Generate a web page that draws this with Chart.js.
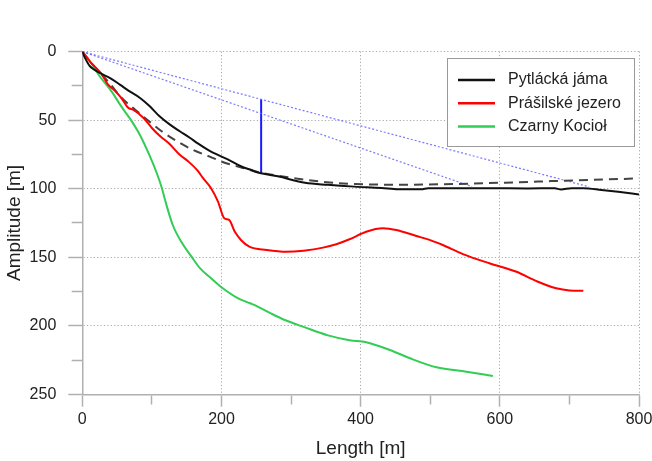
<!DOCTYPE html>
<html>
<head>
<meta charset="utf-8">
<title>Amplitude profiles</title>
<script src="https://cdn.jsdelivr.net/npm/chart.js@4.4.1/dist/chart.umd.min.js"></script>
<style>
    html, body { margin: 0; padding: 0; background: #fff; }
    .chart-wrap { position: relative; width: 652px; height: 461px; }
</style>
</head>
<body>
<div class="chart-wrap"><canvas id="profileChart"></canvas></div>
<script>
// Profile data (length [m] / amplitude [m])
const lengthTicks = [0, 200, 400, 600, 800];
const amplitudeTicks = [0, 50, 100, 150, 200, 250];

const pytlackaLength = [0, 3, 8, 11, 16, 25, 40, 54, 68, 83, 97, 111, 126, 140, 155, 166, 185, 209, 233, 243, 248, 257, 281, 320, 353, 391, 430, 454, 487, 497, 540, 583, 640, 679, 688, 703, 720, 746, 770, 800];
const pytlackaDepth = [0, 3.7, 8.5, 10.7, 12.8, 15.6, 19.3, 24.1, 29, 33.8, 39.9, 47.2, 53.3, 58.1, 63, 67, 73, 78.6, 84.7, 86.4, 87.5, 88.8, 91, 95.7, 97.2, 98.5, 99.5, 100.5, 100.5, 99.7, 99.7, 99.7, 99.8, 99.7, 100.6, 99.6, 99.6, 100.9, 102.3, 104.2];

const prasilskeLength = [0, 6, 13, 27, 37, 45, 56, 66, 73, 88, 100, 112, 124, 140, 152, 166, 173, 185, 195, 204, 211, 219, 228, 240, 265, 293, 318, 346, 365, 384, 408, 432, 451, 480, 500, 518, 547, 585, 624, 652, 681, 700, 720];
const prasilskeDepth = [0, 4, 8.5, 15.8, 24.1, 27.7, 33.8, 41, 42.4, 48.4, 55.7, 61.8, 66.7, 75.2, 80, 87, 92, 99.7, 109.4, 121.6, 122.8, 131.3, 137.4, 142.3, 144.7, 146, 145.2, 143, 140.5, 136.9, 131.4, 128.9, 130.1, 134.5, 137.5, 141.1, 147.7, 154.4, 160.6, 167.3, 172.7, 174.2, 174.4];

const czarnyLength = [0, 13, 25, 42, 56, 70, 83, 96, 108, 114, 121, 130, 142, 157, 169, 185, 199, 224, 241, 252, 271, 291, 319, 353, 384, 408, 442, 475, 509, 552, 590];
const czarnyDepth = [0, 8.5, 18, 29, 40, 50, 61, 75, 90, 99, 112, 126.5, 138.6, 149.6, 158, 165.4, 171.5, 180, 183.6, 186, 191, 195.8, 201, 207, 210.5, 212, 217.7, 224.5, 230.3, 233.5, 236.6];

// fitted curve (dashed)
const fitLength = [0, 20, 40, 56, 76, 95, 114, 136, 159, 183, 207, 216, 235, 257, 296, 344, 391, 463, 535, 607, 679, 726, 800];
const fitDepth = [0, 12.5, 23.5, 33.5, 42.4, 50.4, 58.1, 65.4, 71.7, 76.6, 81.5, 82.7, 85.5, 88.3, 91.7, 94.9, 96.6, 97.1, 96.6, 95.6, 94.4, 93.7, 92.5];

// chords from the origin and the marker between them
const chordLongLength = [0, 728];
const chordLongDepth = [0, 98.6];
const chordShortLength = [0, 560];
const chordShortDepth = [0, 98.5];
const markerLength = [257, 257];
const markerDepth = [34.8, 88.8];

const toPoints = (xs, ys) => xs.map((x, i) => ({ x: x, y: ys[i] }));

Chart.defaults.font.family = "'Liberation Sans', Arial, sans-serif";
Chart.defaults.color = '#222';

// legend in a framed box inside the plot
const boxLegend = {
    id: 'boxLegend',
    afterDraw(chart, args, opts) {
        const ctx = chart.ctx;
        ctx.save();
        ctx.fillStyle = '#fff';
        ctx.fillRect(opts.left, opts.top, opts.width, opts.height);
        ctx.strokeStyle = opts.borderColor;
        ctx.lineWidth = 1;
        ctx.strokeRect(opts.left, opts.top, opts.width, opts.height);
        ctx.font = opts.fontSize + "px 'Liberation Sans', Arial, sans-serif";
        ctx.textBaseline = 'middle';
        chart.data.datasets.filter(ds => ds.inLegend).forEach((ds, i) => {
            const y = opts.firstRow + i * opts.rowGap;
            ctx.strokeStyle = ds.borderColor;
            ctx.lineWidth = 2.5;
            ctx.beginPath();
            ctx.moveTo(opts.lineStart, y);
            ctx.lineTo(opts.lineEnd, y);
            ctx.stroke();
            ctx.fillStyle = '#222';
            ctx.fillText(ds.label, opts.textX, y);
        });
        ctx.restore();
    }
};

const gridGray = '#a8a8a8';
const axisGray = '#b0b0b0';

const profileCtx = document.getElementById('profileChart');
if (profileCtx) {
    new Chart(profileCtx, {
        type: 'line',
        data: {
            datasets: [{
                label: 'Pytlácká jáma',
                data: toPoints(pytlackaLength, pytlackaDepth),
                borderColor: '#111111',
                borderWidth: 2,
                inLegend: true
            }, {
                label: 'Prášilské jezero',
                data: toPoints(prasilskeLength, prasilskeDepth),
                borderColor: '#ff0000',
                borderWidth: 2,
                inLegend: true
            }, {
                label: 'Czarny Kocioł',
                data: toPoints(czarnyLength, czarnyDepth),
                borderColor: '#33cc55',
                borderWidth: 2,
                inLegend: true
            }, {
                label: 'fit',
                data: toPoints(fitLength, fitDepth),
                borderColor: '#444444',
                borderWidth: 2,
                borderDash: [9, 6]
            }, {
                label: 'chord long',
                data: toPoints(chordLongLength, chordLongDepth),
                borderColor: 'rgba(100, 100, 255, 0.85)',
                borderWidth: 1.2,
                borderDash: [2, 2]
            }, {
                label: 'chord short',
                data: toPoints(chordShortLength, chordShortDepth),
                borderColor: 'rgba(100, 100, 255, 0.85)',
                borderWidth: 1.2,
                borderDash: [2, 2]
            }, {
                label: 'marker',
                data: toPoints(markerLength, markerDepth),
                borderColor: '#1a1aff',
                borderWidth: 2
            }]
        },
        options: {
            responsive: true,
            maintainAspectRatio: false,
            animation: false,
            parsing: false,
            elements: {
                point: { radius: 0 },
                line: { cubicInterpolationMode: 'monotone', fill: false }
            },
            layout: {
                padding: { top: 51.6, right: 13, bottom: 0, left: 0 }
            },
            plugins: {
                legend: { display: false },
                tooltip: { enabled: false },
                boxLegend: {
                    left: 447.5, top: 58.5, width: 187, height: 88,
                    borderColor: '#999',
                    firstRow: 80, rowGap: 23.3,
                    lineStart: 458, lineEnd: 495, textX: 508,
                    fontSize: 16
                }
            },
            scales: {
                x: {
                    type: 'linear',
                    min: 0,
                    max: 800,
                    afterFit: scale => {
                        scale.height = 66.7;
                        scale.paddingLeft = 0;
                        scale.paddingRight = 0;
                    },
                    ticks: {
                        stepSize: 100,
                        autoSkip: false,
                        maxRotation: 0,
                        padding: 3,
                        font: { size: 16 },
                        callback: v => lengthTicks.includes(v) ? String(v) : ''
                    },
                    grid: {
                        color: c => (c.tick && c.tick.value > 0 && lengthTicks.includes(c.tick.value)) ? gridGray : 'transparent',
                        lineWidth: 1,
                        tickLength: 12.4,
                        tickWidth: 1.5,
                        tickColor: axisGray,
                        tickBorderDash: c => (c.tick && !lengthTicks.includes(c.tick.value)) ? [9, 40] : []
                    },
                    border: { display: true, color: axisGray, width: 1.5, dash: [1.2, 2.2] },
                    title: {
                        display: true,
                        text: 'Length [m]',
                        font: { size: 19 },
                        padding: { top: 0, bottom: 1 }
                    }
                },
                y: {
                    type: 'linear',
                    reverse: true,
                    min: 0,
                    max: 250,
                    afterFit: scale => {
                        scale.width = 82.3;
                        scale.paddingTop = 0;
                        scale.paddingBottom = 0;
                    },
                    ticks: {
                        stepSize: 25,
                        autoSkip: false,
                        padding: 12,
                        font: { size: 16 },
                        callback: v => amplitudeTicks.includes(v) ? String(v) : ''
                    },
                    grid: {
                        color: c => (c.tick && c.tick.value < 250 && amplitudeTicks.includes(c.tick.value)) ? gridGray : 'transparent',
                        lineWidth: 1,
                        tickLength: 14,
                        tickWidth: 1.5,
                        tickColor: axisGray,
                        tickBorderDash: c => (c.tick && !amplitudeTicks.includes(c.tick.value)) ? [0, 3.4, 11, 40] : []
                    },
                    border: { display: true, color: axisGray, width: 1.5, dash: [1.2, 2.2] },
                    title: {
                        display: true,
                        text: 'Amplitude [m]',
                        font: { size: 19 },
                        padding: { top: 3, bottom: 0 }
                    }
                }
            }
        },
        plugins: [boxLegend]
    });
}
</script>
</body>
</html>
